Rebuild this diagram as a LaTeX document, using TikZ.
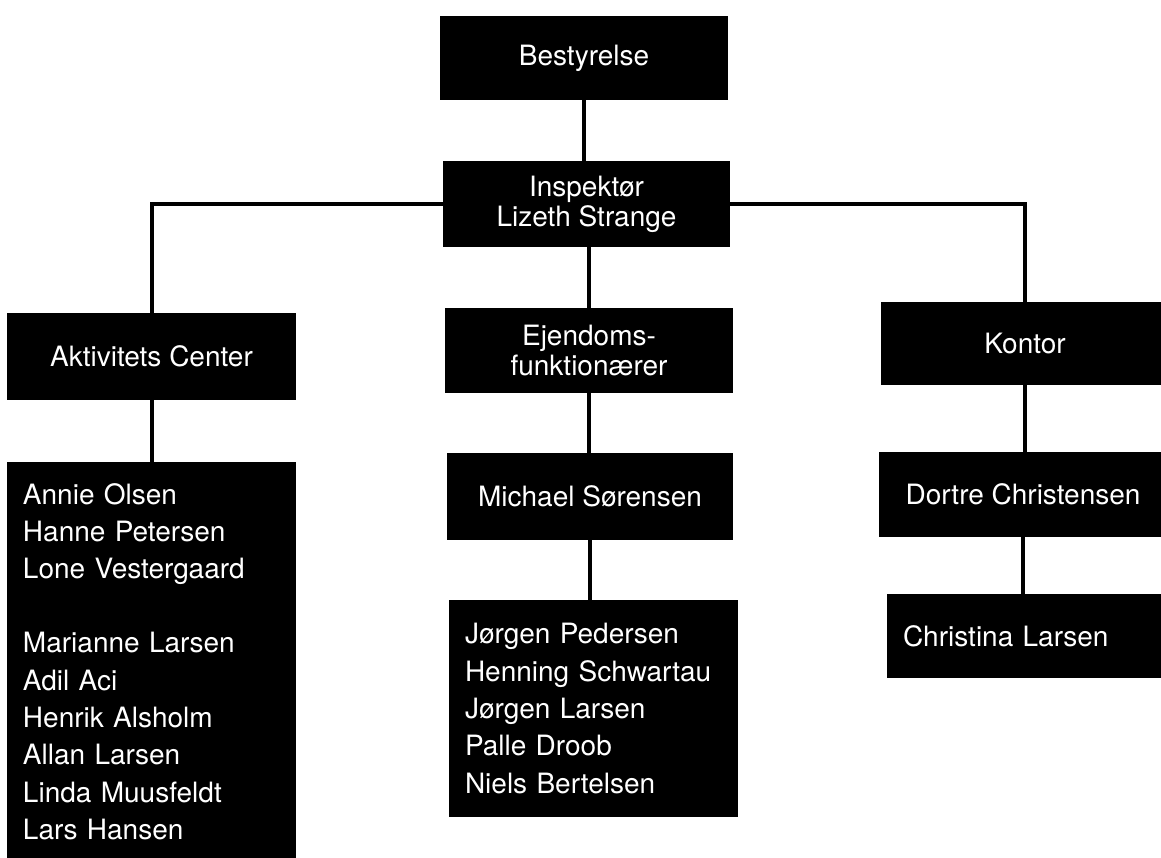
\documentclass[tikz,border=0pt]{standalone}
\usepackage{fontspec}
\setmainfont{TeX Gyre Heros}
\begin{document}
\begin{tikzpicture}[x=1pt,y=-1pt,
  box/.style={fill=black,text=white,draw=none,inner sep=0pt,align=center,
    font=\fontsize{28}{30}\selectfont},
  listbox/.style={box,align=left,inner xsep=16pt,text width=257pt,
    font=\fontsize{28}{37.3}\selectfont},
  link/.style={line width=4pt}]
\useasboundingbox (0,0) rectangle (1161,858);
\clip (0,0) rectangle (1161,858);
\node[box,minimum width=288pt,minimum height=84pt] (best) at (584,58) {Bestyrelse};
\node[box,minimum width=287pt,minimum height=86pt] (insp) at (586.5,204) {Inspektør\\Lizeth Strange};
\node[box,minimum width=289pt,minimum height=87pt] (akt) at (151.5,356.5) {Aktivitets Center};
\node[box,minimum width=288pt,minimum height=85pt] (ejd) at (589,350.5) {Ejendoms-\\funktionærer};
\node[box,minimum width=288pt,minimum height=83pt] (kon) at (1025,343.5) {Kontor};
\node[listbox,minimum width=289pt,minimum height=399pt] (akl) at (151.5,661.5)
  {Annie Olsen\\Hanne Petersen\\Lone Vestergaard\\[37pt]Marianne Larsen\\Adil Aci\\Henrik Alsholm\\Allan Larsen\\Linda Muusfeldt\\Lars Hansen};
\node[box,minimum width=286pt,minimum height=87pt] (mic) at (590,496.5) {Michael Sørensen};
\node[listbox,minimum width=289pt,minimum height=217pt] (jor) at (593.5,708.5)
  {Jørgen Pedersen\\Henning Schwartau\\Jørgen Larsen\\Palle Droob\\Niels Bertelsen};
\node[box,minimum width=288pt,minimum height=85pt] (dor) at (1023,494.5) {Dortre Christensen};
\node[box,align=left,inner xsep=16pt,text width=256pt,minimum height=84pt] (chr) at (1031,636) {Christina Larsen};
\draw[link] (best.south) -- (best.south |- insp.north);
\draw[link] (akt.north) |- (insp.west);
\draw[link] (insp.east) -| (kon.north);
\draw[link] (ejd.north) -- (ejd.north |- insp.south);
\draw[link] (akt.south) -- (akt.south |- akl.north);
\draw[link] (ejd.south) -- (ejd.south |- mic.north);
\draw[link] (mic.south) -- (mic.south |- jor.north);
\draw[link] (kon.south) -- (kon.south |- dor.north);
\draw[link] (dor.south) -- (dor.south |- chr.north);
\end{tikzpicture}
\end{document}
